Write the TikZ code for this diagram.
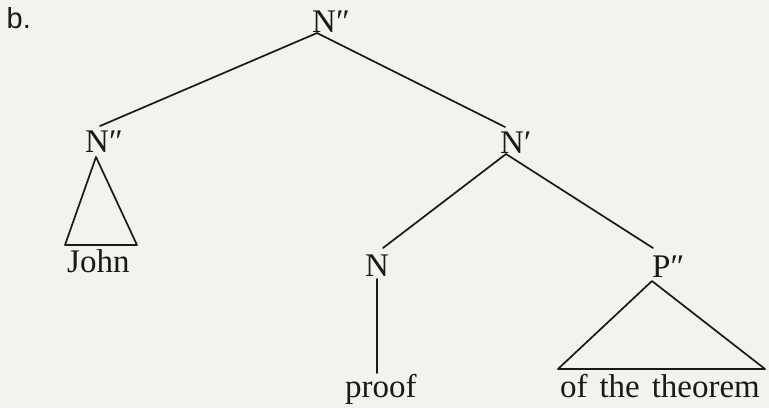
\documentclass[tikz,border=0pt]{standalone}
\usepackage{fontspec}
\setmainfont{Liberation Serif}
\newfontfamily\labelsans{Liberation Sans}
\definecolor{bg}{RGB}{242,242,238}
\definecolor{ink}{RGB}{25,25,25}
\begin{document}
\begin{tikzpicture}[x=1pt,y=-1pt,
  lab/.style={inner sep=0pt,anchor=base west,text=ink,font=\fontsize{33}{39}\selectfont},
  edge/.style={draw=ink,line width=1.7pt,line cap=round,line join=round}]
\fill[bg] (0,0) rectangle (769,408);
\useasboundingbox (0,0) rectangle (769,408);
% labels
\node[lab,font=\labelsans\fontsize{29}{34}\selectfont] (item) at (6.5,28) {b.};
\node[lab] (top) at (312,32) {N″};
\node[lab] (nL) at (85,152) {N″};
\node[lab] (nR) at (500,153) {N′};
\node[lab] (n) at (365,276) {N};
\node[lab] (p) at (652,277) {P″};
\node[lab] (john) at (67,272) {John};
\node[lab] (proof) at (345,397) {proof};
\node[lab] (thm) at (560,397) {of\hspace{0.36em}the\hspace{0.36em}theorem};
% attachment points
\coordinate (topB) at (317,33);
\coordinate (nLT) at (100,126);
\coordinate (nRT) at (505,127);
\coordinate (nRB) at (506,154);
\coordinate (nT) at (383,248);
\coordinate (pT) at (653,248);
\coordinate (nB) at (377,279);
\coordinate (proofT) at (377,373);
\coordinate (triLA) at (96,157);
\coordinate (triLL) at (65,245);
\coordinate (triLR) at (137,245);
\coordinate (triRA) at (652,281);
\coordinate (triRL) at (558,369);
\coordinate (triRR) at (765,369);
% branches
\draw[edge] (topB) -- (nLT);
\draw[edge] (topB) -- (nRT);
\draw[edge] (nRB) -- (nT);
\draw[edge] (nRB) -- (pT);
\draw[edge] (nB) -- (proofT);
\draw[edge] (triLA) -- (triLL) -- (triLR) -- cycle;
\draw[edge] (triRA) -- (triRL) -- (triRR) -- cycle;
\end{tikzpicture}
\end{document}
